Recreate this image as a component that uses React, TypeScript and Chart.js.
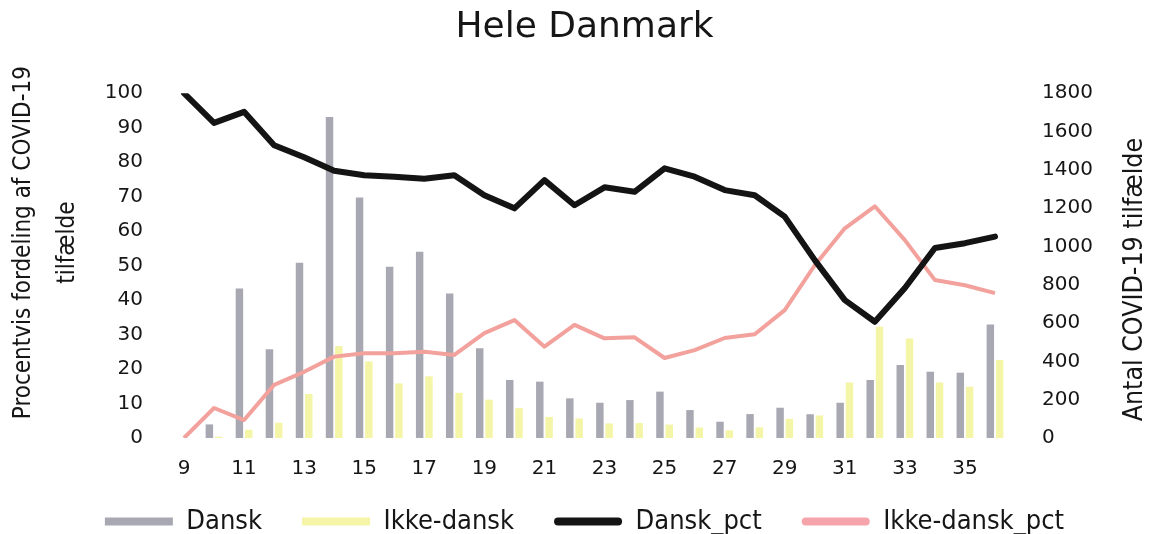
import React, { useEffect, useRef } from 'react';
import { Chart, registerables } from 'chart.js';

Chart.register(...registerables);

// ---- data ----
const weeks = ['9', '10', '11', '12', '13', '14', '15', '16', '17', '18', '19', '20', '21', '22', '23', '24', '25', '26', '27', '28', '29', '30', '31', '32', '33', '34', '35', '36'];

const dansk = [0, 71, 781, 463, 915, 1676, 1256, 894, 972, 755, 468, 303, 294, 207, 184, 198, 242, 146, 85, 125, 158, 124, 184, 303, 381, 346, 341, 593];

const ikkeDansk = [0, 7, 43, 80, 230, 480, 400, 285, 322, 236, 200, 156, 110, 102, 76, 78, 70, 55, 40, 56, 100, 118, 290, 581, 520, 290, 268, 407];

const danskPct = [100, 91.4, 94.6, 84.9, 81.4, 77.5, 76.2, 75.8, 75.2, 76.2, 70.4, 66.6, 74.8, 67.5, 72.7, 71.4, 78.2, 75.8, 71.9, 70.4, 64.2, 51.6, 40.0, 33.7, 43.5, 55.1, 56.5, 58.4];

const ikkeDanskPct = [0, 8.7, 5.2, 15.4, 19.2, 23.6, 24.6, 24.6, 25, 24.1, 30.4, 34.2, 26.5, 32.8, 28.9, 29.2, 23.2, 25.5, 29, 30.1, 37.1, 50.1, 60.8, 67.2, 57.4, 45.8, 44.3, 42];

const chartTitle = 'Hele Danmark';
const leftTitle = ['Procentvis fordeling af COVID-19', 'tilfælde'];
const rightTitle = 'Antal COVID-19 tilfælde';
const seriesLabels = ['Dansk', 'Ikke-dansk', 'Dansk_pct', 'Ikke-dansk_pct'];

const NARROW = "'Liberation Sans Narrow', 'DejaVu Sans Condensed', 'Liberation Sans', sans-serif";
const WIDE = "'DejaVu Sans', Verdana, sans-serif";
const TEXT = '#161616';

const axisTitles = {
  id: 'axisTitles',
  afterDraw(chart: any) {
    const { ctx, chartArea } = chart;
    const midY = (chartArea.top + chartArea.bottom) / 2;
    ctx.save();
    ctx.fillStyle = TEXT;
    ctx.textAlign = 'center';
    ctx.textBaseline = 'middle';
    // left title (two lines, reading bottom to top)
    ctx.save();
    ctx.font = `24px ${NARROW}`;
    ctx.translate(24, midY - 23);
    ctx.rotate(-Math.PI / 2);
    ctx.fillText(leftTitle[0], 0, 0);
    ctx.fillText(leftTitle[1], 0, 44);
    ctx.restore();
    // right title
    ctx.save();
    ctx.font = `26.5px ${NARROW}`;
    ctx.translate(chart.width - 14, midY + 14);
    ctx.rotate(-Math.PI / 2);
    ctx.fillText(rightTitle, 0, 0);
    ctx.restore();
    ctx.restore();
  },
};

export default function App() {
  const ref = useRef<HTMLCanvasElement | null>(null);

  useEffect(() => {
    if (!ref.current) return;
    const tickFont = { family: WIDE, size: 20 };
    const chart = new Chart(ref.current, {
      type: 'bar',
      data: {
        labels: weeks,
        datasets: [
          {
            type: 'bar',
            label: seriesLabels[0],
            data: dansk,
            backgroundColor: '#a8a8b2',
            borderWidth: 0,
            yAxisID: 'y1',
            order: 2,
            clip: false,
            barPercentage: 0.8,
            categoryPercentage: 0.62,
          },
          {
            type: 'bar',
            label: seriesLabels[1],
            data: ikkeDansk,
            backgroundColor: '#f5f5a8',
            borderWidth: 0,
            yAxisID: 'y1',
            order: 2,
            clip: false,
            barPercentage: 0.8,
            categoryPercentage: 0.62,
          },
          {
            type: 'line',
            label: seriesLabels[2],
            data: danskPct,
            borderColor: '#141414',
            backgroundColor: '#141414',
            borderWidth: 6,
            pointRadius: 0,
            tension: 0,
            borderJoinStyle: 'round',
            borderCapStyle: 'round',
            yAxisID: 'y',
            order: 0,
          },
          {
            type: 'line',
            label: seriesLabels[3],
            data: ikkeDanskPct,
            borderColor: '#f2a19c',
            backgroundColor: '#f4a4aa',
            borderWidth: 4,
            pointRadius: 0,
            tension: 0,
            borderJoinStyle: 'round',
            yAxisID: 'y',
            order: 1,
          },
        ],
      } as any,
      options: {
        animation: false,
        responsive: true,
        maintainAspectRatio: false,
        layout: { padding: { top: 0, left: 20, right: 0, bottom: -11 } },
        plugins: {
          title: {
            display: true,
            text: chartTitle,
            color: TEXT,
            font: { family: WIDE, size: 36, weight: 'normal' },
            padding: { top: 6, bottom: 44 },
          },
          legend: {
            position: 'bottom',
            labels: {
              boxWidth: 68,
              boxHeight: 8,
              padding: 40,
              color: TEXT,
              font: { family: NARROW, size: 27 },
              sort: (a: any, b: any) => a.datasetIndex - b.datasetIndex,
              generateLabels: (c: any) =>
                (Chart.defaults.plugins.legend.labels.generateLabels as any)(c).map((l: any) => ({
                  ...l,
                  lineWidth: 0,
                  borderRadius: l.datasetIndex >= 2 ? 4 : 0,
                })),
            },
          },
          tooltip: { enabled: false },
        },
        scales: {
          x: {
            type: 'category',
            offset: false,
            grid: { display: false, drawTicks: false },
            border: { display: false },
            ticks: {
              autoSkip: false,
              maxRotation: 0,
              mirror: true,
              padding: -43,
              color: TEXT,
              font: tickFont,
              callback: (_v: any, i: number) => (i % 2 === 0 ? weeks[i] : ''),
            },
            afterFit: (s: any) => {
              s.height = 30;
            },
          },
          y: {
            position: 'left',
            min: 0,
            max: 100,
            grid: { display: false, drawTicks: false },
            border: { display: false },
            ticks: { stepSize: 10, padding: 41, color: TEXT, font: tickFont },
            afterFit: (s: any) => {
              s.width = 164;
            },
          },
          y1: {
            position: 'right',
            min: 0,
            max: 1800,
            grid: { display: false, drawTicks: false },
            border: { display: false },
            ticks: {
              stepSize: 200,
              padding: 47,
              color: TEXT,
              font: tickFont,
              callback: (v: any) => String(v),
            },
            afterFit: (s: any) => {
              s.width = 154;
            },
          },
        },
      } as any,
      plugins: [axisTitles],
    });
    return () => chart.destroy();
  }, []);

  return (
    <div style={{ position: 'absolute', left: 0, top: 0, width: 1149, height: 534, background: '#fff' }}>
      <canvas ref={ref} />
    </div>
  );
}
